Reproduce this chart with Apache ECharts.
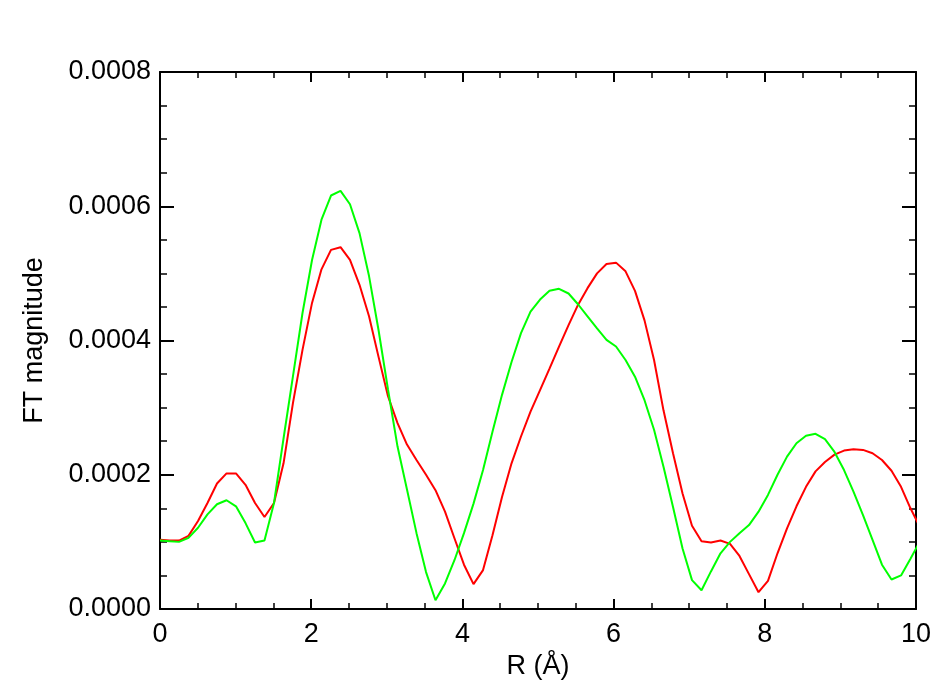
<!DOCTYPE html>
<html>
	<head>
		<meta charset="UTF-8">
		<title>FT magnitude</title>
		<script src="https://cdn.jsdelivr.net/npm/echarts@6/dist/echarts.min.js"></script>
		<style>
			body { margin: 0; background: #fff; }
			#main { width: 950px; height: 700px; }
		</style>
	</head>
	<body>
		<div id="main"></div>
		<script>
			// R grid (Å)
			var rGrid = [0, 0.126, 0.251, 0.377, 0.503, 0.628, 0.754, 0.880, 1.005, 1.131,
				1.257, 1.382, 1.508, 1.634, 1.759, 1.885, 2.011, 2.136, 2.262, 2.388,
				2.513, 2.639, 2.765, 2.890, 3.016, 3.142, 3.267, 3.393, 3.519, 3.644,
				3.770, 3.896, 4.021, 4.147, 4.273, 4.398, 4.524, 4.650, 4.775, 4.901,
				5.027, 5.152, 5.278, 5.404, 5.529, 5.655, 5.781, 5.906, 6.032, 6.158,
				6.283, 6.409, 6.535, 6.660, 6.786, 6.912, 7.037, 7.163, 7.288, 7.414,
				7.540, 7.665, 7.791, 7.917, 8.042, 8.168, 8.294, 8.419, 8.545, 8.671,
				8.796, 8.922, 9.048, 9.173, 9.299, 9.425, 9.550, 9.676, 9.802, 9.927, 10.053];

			// FT magnitude, in units of 1e-4
			var redMag = [1.03, 1.02, 1.02, 1.09, 1.31, 1.58, 1.87, 2.02, 2.02, 1.85,
				1.58, 1.37, 1.58, 2.17, 3.07, 3.86, 4.56, 5.06, 5.35, 5.39,
				5.20, 4.83, 4.36, 3.76, 3.17, 2.77, 2.45, 2.22, 2.00, 1.77,
				1.45, 1.05, 0.66, 0.37, 0.58, 1.10, 1.67, 2.17, 2.57, 2.94,
				3.26, 3.58, 3.91, 4.23, 4.53, 4.78, 5.00, 5.14, 5.16, 5.03,
				4.74, 4.30, 3.71, 2.96, 2.32, 1.72, 1.24, 1.01, 0.99, 1.02,
				0.97, 0.79, 0.52, 0.25, 0.42, 0.83, 1.20, 1.53, 1.82, 2.05,
				2.19, 2.30, 2.36, 2.38, 2.37, 2.32, 2.22, 2.06, 1.82, 1.50, 1.22];

			var greenMag = [1.02, 1.01, 1.00, 1.06, 1.21, 1.41, 1.56, 1.62, 1.53, 1.28,
				0.99, 1.02, 1.58, 2.54, 3.47, 4.41, 5.20, 5.80, 6.16, 6.23,
				6.03, 5.60, 4.96, 4.16, 3.27, 2.42, 1.78, 1.13, 0.55, 0.13,
				0.38, 0.73, 1.13, 1.57, 2.07, 2.64, 3.19, 3.68, 4.11, 4.43,
				4.61, 4.74, 4.77, 4.70, 4.54, 4.36, 4.18, 4.01, 3.91, 3.71,
				3.46, 3.11, 2.67, 2.12, 1.52, 0.90, 0.43, 0.28, 0.56, 0.83,
				1.00, 1.13, 1.25, 1.45, 1.70, 2.00, 2.27, 2.47, 2.58, 2.61,
				2.53, 2.34, 2.07, 1.75, 1.40, 1.03, 0.66, 0.44, 0.50, 0.75, 1.01];

			var SCALE = 1e-4;
			var FONT = 'Liberation Sans';
			var FSIZE = 27;

			function pairs(vals) {
				var out = [];
				for (var i = 0; i < rGrid.length; i++) {
					out.push([rGrid[i], vals[i] * SCALE]);
				}
				return out;
			}

			function xAxisDef(pos, labels) {
				return {
					type: 'value', position: pos, min: 0, max: 10, interval: 2,
					name: labels ? 'R (Å)' : '', nameLocation: 'middle', nameGap: 41,
					nameTextStyle: { fontFamily: FONT, fontSize: FSIZE, color: '#000' },
					axisLine: { show: true, onZero: false, lineStyle: { color: '#000', width: 2 } },
					axisTick: { show: true, inside: true, length: 10, lineStyle: { color: '#000', width: 2 } },
					minorTick: { show: true, splitNumber: 4, length: 6, lineStyle: { color: '#000', width: 1.5 } },
					axisLabel: { show: labels, margin: 12, fontFamily: FONT, fontSize: FSIZE, color: '#000' },
					splitLine: { show: false }
				};
			}

			function yAxisDef(pos, labels) {
				return {
					type: 'value', position: pos, min: 0, max: 0.0008, interval: 0.0002,
					name: labels ? 'FT magnitude' : '', nameLocation: 'middle', nameGap: 112,
					nameTextStyle: { fontFamily: FONT, fontSize: FSIZE, color: '#000' },
					axisLine: { show: true, onZero: false, lineStyle: { color: '#000', width: 2 } },
					axisTick: { show: true, inside: true, length: 14, lineStyle: { color: '#000', width: 2 } },
					minorTick: { show: true, splitNumber: 4, length: 7, lineStyle: { color: '#000', width: 1.5 } },
					axisLabel: {
						show: labels, margin: 9, fontFamily: FONT, fontSize: FSIZE, color: '#000',
						formatter: function (v) { return v.toFixed(4); }
					},
					splitLine: { show: false }
				};
			}

			var chart = echarts.init(document.getElementById('main'));
			chart.setOption({
				animation: false,
				backgroundColor: '#fff',
				grid: { left: 160, right: 34, top: 72, bottom: 91 },
				xAxis: [xAxisDef('bottom', true), xAxisDef('top', false)],
				yAxis: [yAxisDef('left', true), yAxisDef('right', false)],
				series: [
					{
						name: 'red', type: 'line', xAxisIndex: 0, yAxisIndex: 0,
						showSymbol: false, clip: true,
						lineStyle: { color: '#ff0000', width: 2 },
						data: pairs(redMag)
					},
					{
						name: 'green', type: 'line', xAxisIndex: 0, yAxisIndex: 0,
						showSymbol: false, clip: true,
						lineStyle: { color: '#00ff00', width: 2 },
						data: pairs(greenMag)
					}
				]
			});
		</script>
	</body>
</html>
